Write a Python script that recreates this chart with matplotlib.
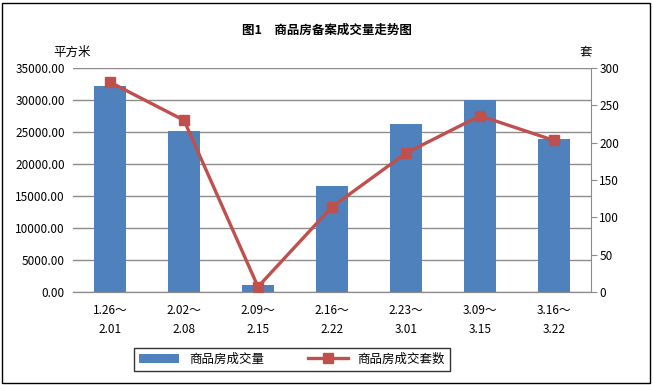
import matplotlib
matplotlib.use("Agg")
import matplotlib.pyplot as plt
from matplotlib.patches import Rectangle

plt.rcParams['font.family'] = ['Noto Sans CJK SC', 'DejaVu Sans']

# data
periods = ["1.26～\n2.01", "2.02～\n2.08", "2.09～\n2.15", "2.16～\n2.22",
           "2.23～\n3.01", "3.09～\n3.15", "3.16～\n3.22"]
area = [32200, 25200, 1100, 16600, 26200, 30000, 23900]   # 平方米
units = [281, 230, 7, 114, 186, 236, 203]                 # 套
left_ticks = [0, 5000, 10000, 15000, 20000, 25000, 30000, 35000]
right_ticks = [0, 50, 100, 150, 200, 250, 300]

bar_color = "#4f81bd"
line_color = "#c0504d"
grid_color = "#8c8c8c"

fig = plt.figure(figsize=(6.53, 3.85), dpi=100)
ax = fig.add_axes([73/653, 1-292/385, 518/653, 224/385])
ax2 = ax.twinx()

x = list(range(len(periods)))
ax.bar(x, area, width=0.42, color=bar_color, label="商品房成交量", zorder=2)
ax2.plot(x, units, color=line_color, lw=2.4, marker="s", ms=7,
         label="商品房成交套数", zorder=3)

ax.set_xlim(-0.5, len(periods) - 0.5)
ax.set_ylim(0, 35000)
ax2.set_ylim(0, 300)
ax.set_yticks(left_ticks)
ax.set_yticklabels(["%.2f" % v for v in left_ticks])
ax2.set_yticks(right_ticks)
ax.set_xticks(x)
ax.set_xticklabels(periods, linespacing=1.55)
ax.yaxis.grid(True, color=grid_color, lw=1)
ax.set_axisbelow(True)

for a in (ax, ax2):
    a.spines['top'].set_visible(False)
    a.spines['left'].set_visible(False)
    a.spines['right'].set_visible(False)
    a.spines['bottom'].set_color(grid_color)
ax2.spines['right'].set_visible(True)
ax2.spines['right'].set_color(grid_color)
ax.tick_params(axis='y', length=0, labelsize=8.5, pad=6)
ax.tick_params(axis='x', length=0, labelsize=8.5, pad=9)
ax2.tick_params(axis='y', length=4, color=grid_color, labelsize=8.5, pad=2)

fig.text(0.5, 1-30/385, "图1　商品房备案成交量走势图", ha='center', va='center',
         fontsize=9, fontweight='bold')
fig.text(72/653, 1-52/385, "平方米", ha='center', va='center', fontsize=9)
fig.text(586/653, 1-52/385, "套", ha='center', va='center', fontsize=9)

h1, l1 = ax.get_legend_handles_labels()
h2, l2 = ax2.get_legend_handles_labels()
leg = fig.legend(h1 + h2, l1 + l2, loc='center', bbox_to_anchor=(292/653, 1-359/385),
                 ncol=2, fontsize=9, frameon=True, fancybox=False,
                 edgecolor='black', handlelength=3.2, columnspacing=3.5)
leg.get_frame().set_linewidth(1)

fig.patches.append(Rectangle((2/653, 2/385), 648/653, 380/385, transform=fig.transFigure,
                             fill=False, edgecolor='black', lw=1))

fig.savefig("out.png", dpi=100)
